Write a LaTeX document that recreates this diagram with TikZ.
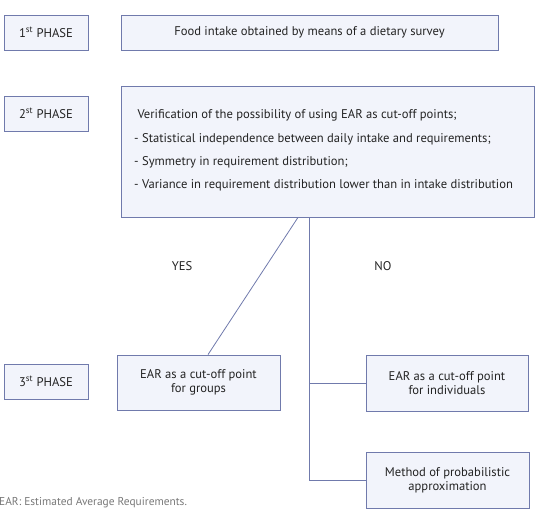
\documentclass[tikz,border=0pt]{standalone}
\usepackage{fontspec}
\setmainfont{PT Sans}
\definecolor{boxline}{RGB}{112,122,172}
\definecolor{boxfill}{RGB}{242,244,251}
\definecolor{txtgray}{RGB}{35,35,35}
\definecolor{notegray}{RGB}{120,120,120}
\usetikzlibrary{positioning}

\begin{document}
\begin{tikzpicture}[x=1pt, y=-1pt, font=\fontsize{12.6}{14}\selectfont, text=txtgray,
    phasebox/.style={rectangle, draw=boxline, fill=boxfill, line width=0.8pt,
                     minimum width=84pt, minimum height=35pt, inner sep=0pt},
    stepbox/.style={rectangle, draw=boxline, fill=boxfill, line width=0.8pt,
                    align=center, inner sep=0pt},
    link/.style={draw=boxline, line width=0.8pt}]
    \useasboundingbox (0,0) rectangle (536,509);

    % phases on the left
    \node[phasebox] (p1) at (46,32.5) {1\textsuperscript{st} PHASE};
    \node[phasebox] (p2) at (46,113.5) {2\textsuperscript{st} PHASE};
    \node[phasebox] (p3) at (46,381.5) {3\textsuperscript{st} PHASE};

    % first and second phase boxes
    \node[stepbox, minimum width=377pt, minimum height=35pt]
          (survey) at (309.5,32.5) {Food intake obtained by means of a dietary survey};
    \node[stepbox, minimum width=413pt, minimum height=131pt]
          (verif) at (327.5,151.5) {};
    \node[anchor=west, align=left, inner sep=0pt, font=\fontsize{12.6}{23.4}\selectfont]
          (criteria) at (134,150.5)
          {\ Verification of the possibility of using EAR as cut-off points;\\
           - Statistical independence between daily intake and requirements;\\
           - Symmetry in requirement distribution;\\
           - Variance in requirement distribution lower than in intake distribution};

    % third phase boxes
    \node[stepbox, minimum width=163pt, minimum height=55pt]
          (groups) at (198.5,382.5) {EAR as a cut-off point\\for groups};
    \node[stepbox, minimum width=162pt, minimum height=56pt]
          (indiv) at (447,383) {EAR as a cut-off point\\for individuals};
    \node[stepbox, minimum width=163pt, minimum height=56pt]
          (probab) at (447.5,480) {Method of probabilistic\\approximation};

    % answers
    \node (yes) at (182,266) {YES};
    \node (no) at (383,266) {NO};

    % connectors
    \coordinate (split) at (309,0 |- verif.south);
    \coordinate (trunk) at (309,0 |- probab.west);
    \draw[link] ([xshift=-11pt]split) -- ([xshift=9.5pt]groups.north);
    \draw[link] (split) -- (trunk) -- (probab.west);
    \draw[link] (split |- indiv.west) -- (indiv.west);

    % footnote
    \node[anchor=west, inner sep=0pt, text=notegray, font=\fontsize{11.4}{12}\selectfont]
          (note) at (-1,503) {EAR: Estimated Average Requirements.};
\end{tikzpicture}
\end{document}
